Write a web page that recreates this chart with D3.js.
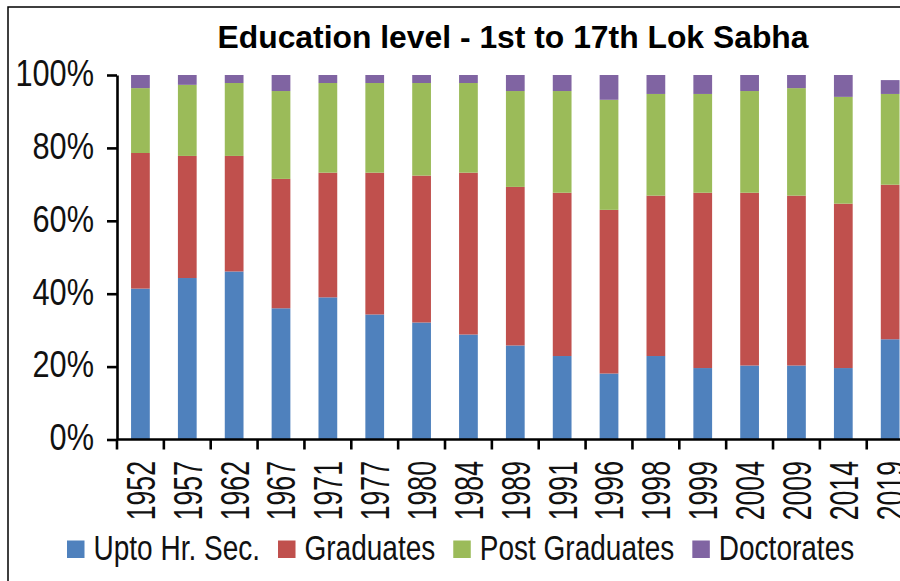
<!DOCTYPE html>
<html>
<head>
<meta charset="utf-8">
<script src="https://cdn.jsdelivr.net/npm/d3@7"></script>
<style>
    body { margin: 0; background: #fff; }
    svg { display: block; font-family: "Liberation Sans", Arial, sans-serif; }
</style>
</head>
<body>
<svg id="chart" width="900" height="581"></svg>
<script>
// values, percent of members per Lok Sabha
const years = ["1952", "1957", "1962", "1967", "1971", "1977", "1980", "1984", "1989",
    "1991", "1996", "1998", "1999", "2004", "2009", "2014", "2019"];
const uptoHrSec = [41.4, 44.3, 46.1, 36.0, 39.0, 34.3, 32.1, 28.8, 25.8, 22.9, 18.1, 22.9, 19.6, 20.3, 20.3, 19.6, 27.5];
const graduates = [37.2, 33.5, 31.7, 35.5, 34.2, 38.9, 40.3, 44.4, 43.5, 44.8, 44.9, 44.0, 48.1, 47.4, 46.6, 45.1, 42.4];
const postGraduates = [17.8, 19.5, 20.0, 24.1, 24.6, 24.6, 25.4, 24.6, 26.3, 27.9, 30.2, 27.9, 27.1, 27.9, 29.5, 29.3, 24.9];
const doctorates = [3.6, 2.7, 2.2, 4.4, 2.2, 2.2, 2.2, 2.2, 4.4, 4.4, 6.8, 5.2, 5.2, 4.4, 3.6, 6.0, 3.8];

const seriesNames = ["Upto Hr. Sec.", "Graduates", "Post Graduates", "Doctorates"];
const seriesColors = ["#4F81BD", "#C0504D", "#9BBB59", "#8064A2"];
const yTicks = [0, 20, 40, 60, 80, 100];

const svg = d3.select("#chart");

// squeeze text horizontally, the original uses a narrow font
function squeeze(sel, k) {
    sel.each(function() {
        const w = this.getComputedTextLength();
        d3.select(this).attr("textLength", w * k).attr("lengthAdjust", "spacingAndGlyphs");
    });
}

// frame round the chart (cut off on the right and bottom in the original)
svg.append("rect")
    .attr("x", 8).attr("y", 7)
    .attr("width", 920).attr("height", 600)
    .attr("fill", "none").attr("stroke", "#000").attr("stroke-width", 1.5);

svg.append("text")
    .attr("x", 513).attr("y", 48)
    .attr("text-anchor", "middle")
    .attr("font-size", 31)
    .attr("font-weight", "bold")
    .attr("fill", "#000")
    .attr("textLength", 591).attr("lengthAdjust", "spacingAndGlyphs")
    .text("Education level - 1st to 17th Lok Sabha");

const rows = years.map((yr, i) => ({
    year: yr,
    "Upto Hr. Sec.": uptoHrSec[i],
    "Graduates": graduates[i],
    "Post Graduates": postGraduates[i],
    "Doctorates": doctorates[i]
}));
const stacked = d3.stack().keys(seriesNames)(rows);

const x = d3.scaleBand()
    .domain(years)
    .range([117, 913.6])
    .paddingInner(0.6)
    .paddingOuter(0.3);
const y = d3.scaleLinear().domain([0, 100]).range([439.5, 75]);
const color = d3.scaleOrdinal().domain(seriesNames).range(seriesColors);

svg.append("g")
    .selectAll("g")
    .data(stacked)
    .join("g")
    .attr("fill", d => color(d.key))
    .selectAll("rect")
    .data(d => d)
    .join("rect")
    .attr("x", d => x(d.data.year))
    .attr("width", x.bandwidth())
    .attr("y", d => y(d[1]))
    .attr("height", d => y(d[0]) - y(d[1]));

// y axis
const yAxis = svg.append("g")
    .attr("transform", "translate(117,0)")
    .call(d3.axisLeft(y).tickValues(yTicks).tickFormat(d => d + "%")
        .tickSize(10).tickSizeOuter(0).tickPadding(13));
yAxis.select(".domain").attr("stroke-width", 2.6);
yAxis.selectAll(".tick line").attr("stroke-width", 2.6);
yAxis.selectAll("text")
    .attr("font-size", 37)
    .attr("font-family", "Liberation Sans, Arial, sans-serif")
    .attr("fill", "#111")
    .attr("dy", "0.28em")
    .call(squeeze, 0.83);

// x axis: line plus ticks on the category boundaries
const xAxis = svg.append("g").attr("transform", "translate(0," + y(0) + ")");
xAxis.append("line")
    .attr("x1", x.range()[0]).attr("x2", x.range()[1])
    .attr("stroke", "#000").attr("stroke-width", 2.6);
xAxis.selectAll("line.tick")
    .data(d3.range(years.length + 1))
    .join("line")
    .attr("class", "tick")
    .attr("x1", i => x.range()[0] + i * x.step())
    .attr("x2", i => x.range()[0] + i * x.step())
    .attr("y1", 0).attr("y2", 10)
    .attr("stroke", "#000").attr("stroke-width", 2.6);

svg.append("g")
    .selectAll("text")
    .data(years)
    .join("text")
    .attr("transform", d => "translate(" + (x(d) + x.bandwidth() / 2) + ",461) rotate(-90)")
    .attr("text-anchor", "end")
    .attr("dy", "0.35em")
    .attr("font-size", 41)
    .attr("fill", "#111")
    .text(d => d)
    .call(squeeze, 0.65);

// legend, laid out left to right from the squeezed text widths
const legend = svg.append("g");
let lx = 67;
seriesNames.forEach((name, i) => {
    legend.append("rect")
        .attr("x", lx).attr("y", 540.5)
        .attr("width", 17.5).attr("height", 17.5)
        .attr("fill", color(name));
    const t = legend.append("text")
        .attr("x", lx + 26.5).attr("y", 560)
        .attr("font-size", 35)
        .attr("fill", "#111")
        .text(name)
        .call(squeeze, 0.8);
    lx += 26.5 + (+t.attr("textLength")) + 18;
});
</script>
</body>
</html>
